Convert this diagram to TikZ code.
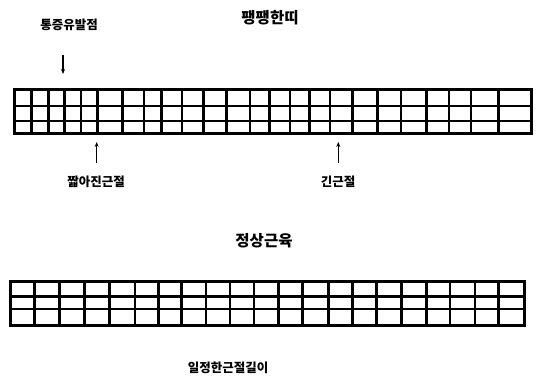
\documentclass[tikz,border=0pt]{standalone}
\usepackage{fontspec}
\setmainfont{Noto Sans CJK KR}
\usetikzlibrary{arrows.meta}
\tikzset{
  outer/.style={line width=3pt},
  inner/.style={line width=2.5pt},
  lbl/.style={font=\bfseries\fontsize{12.5}{13}\selectfont, inner sep=0pt},
  ttl/.style={font=\bfseries\fontsize{15.5}{16}\selectfont, inner sep=0pt},
  arr/.style={line width=1.3pt, -{Stealth[length=5pt,width=4pt]}}
}
\begin{document}
\begin{tikzpicture}[x=1pt,y=-1pt]
\useasboundingbox (0,0) rectangle (540,382);
% titles and labels
\node[ttl] (t1) at (270,18) {팽팽한띠};
\node[lbl] (l1) at (69,25) {통증유발점};
\node[lbl] (l2) at (96,182) {짧아진근절};
\node[lbl] (l3) at (338,182) {긴근절};
\node[ttl] (t2) at (264,241) {정상근육};
\node[lbl] (l4) at (228,368) {일정한근절길이};
% top grid (taut band)
\draw[outer] (14,90) rectangle (531,133.5);
\foreach \x in {31.7,48.3,64.3,81,97.3,122.7,144,161.7,182,203.5,226.5,250,269.3,290,309.6,330,352.4,377.5,401.2,426.7,448.8,471.2,498.3}
  \draw[inner] (\x,90) -- (\x,133.5);
\foreach \y in {106,121}
  \draw[inner] (14,\y) -- (531,\y);
% bottom grid (normal muscle)
\draw[outer] (10,281) rectangle (524.5,325);
\foreach \x in {34.3,59.3,84.3,109.3,135,158.3,181.7,206,230,254,278.3,302.7,328.3,352.7,376.7,401.7,426.7,450,475,498.3}
  \draw[inner] (\x,281) -- (\x,325);
\foreach \y in {296.5,309}
  \draw[inner] (10,\y) -- (524.5,\y);
% arrows
\coordinate (a1s) at (63,55);
\coordinate (a1e) at (63,74);
\coordinate (a2s) at (96.7,163);
\coordinate (a2e) at (96.7,142);
\coordinate (a3s) at (338.3,163);
\coordinate (a3e) at (338.3,142);
\draw[arr] (a1s) -- (a1e);
\draw[arr] (a2s) -- (a2e);
\draw[arr] (a3s) -- (a3e);
\end{tikzpicture}
\end{document}
